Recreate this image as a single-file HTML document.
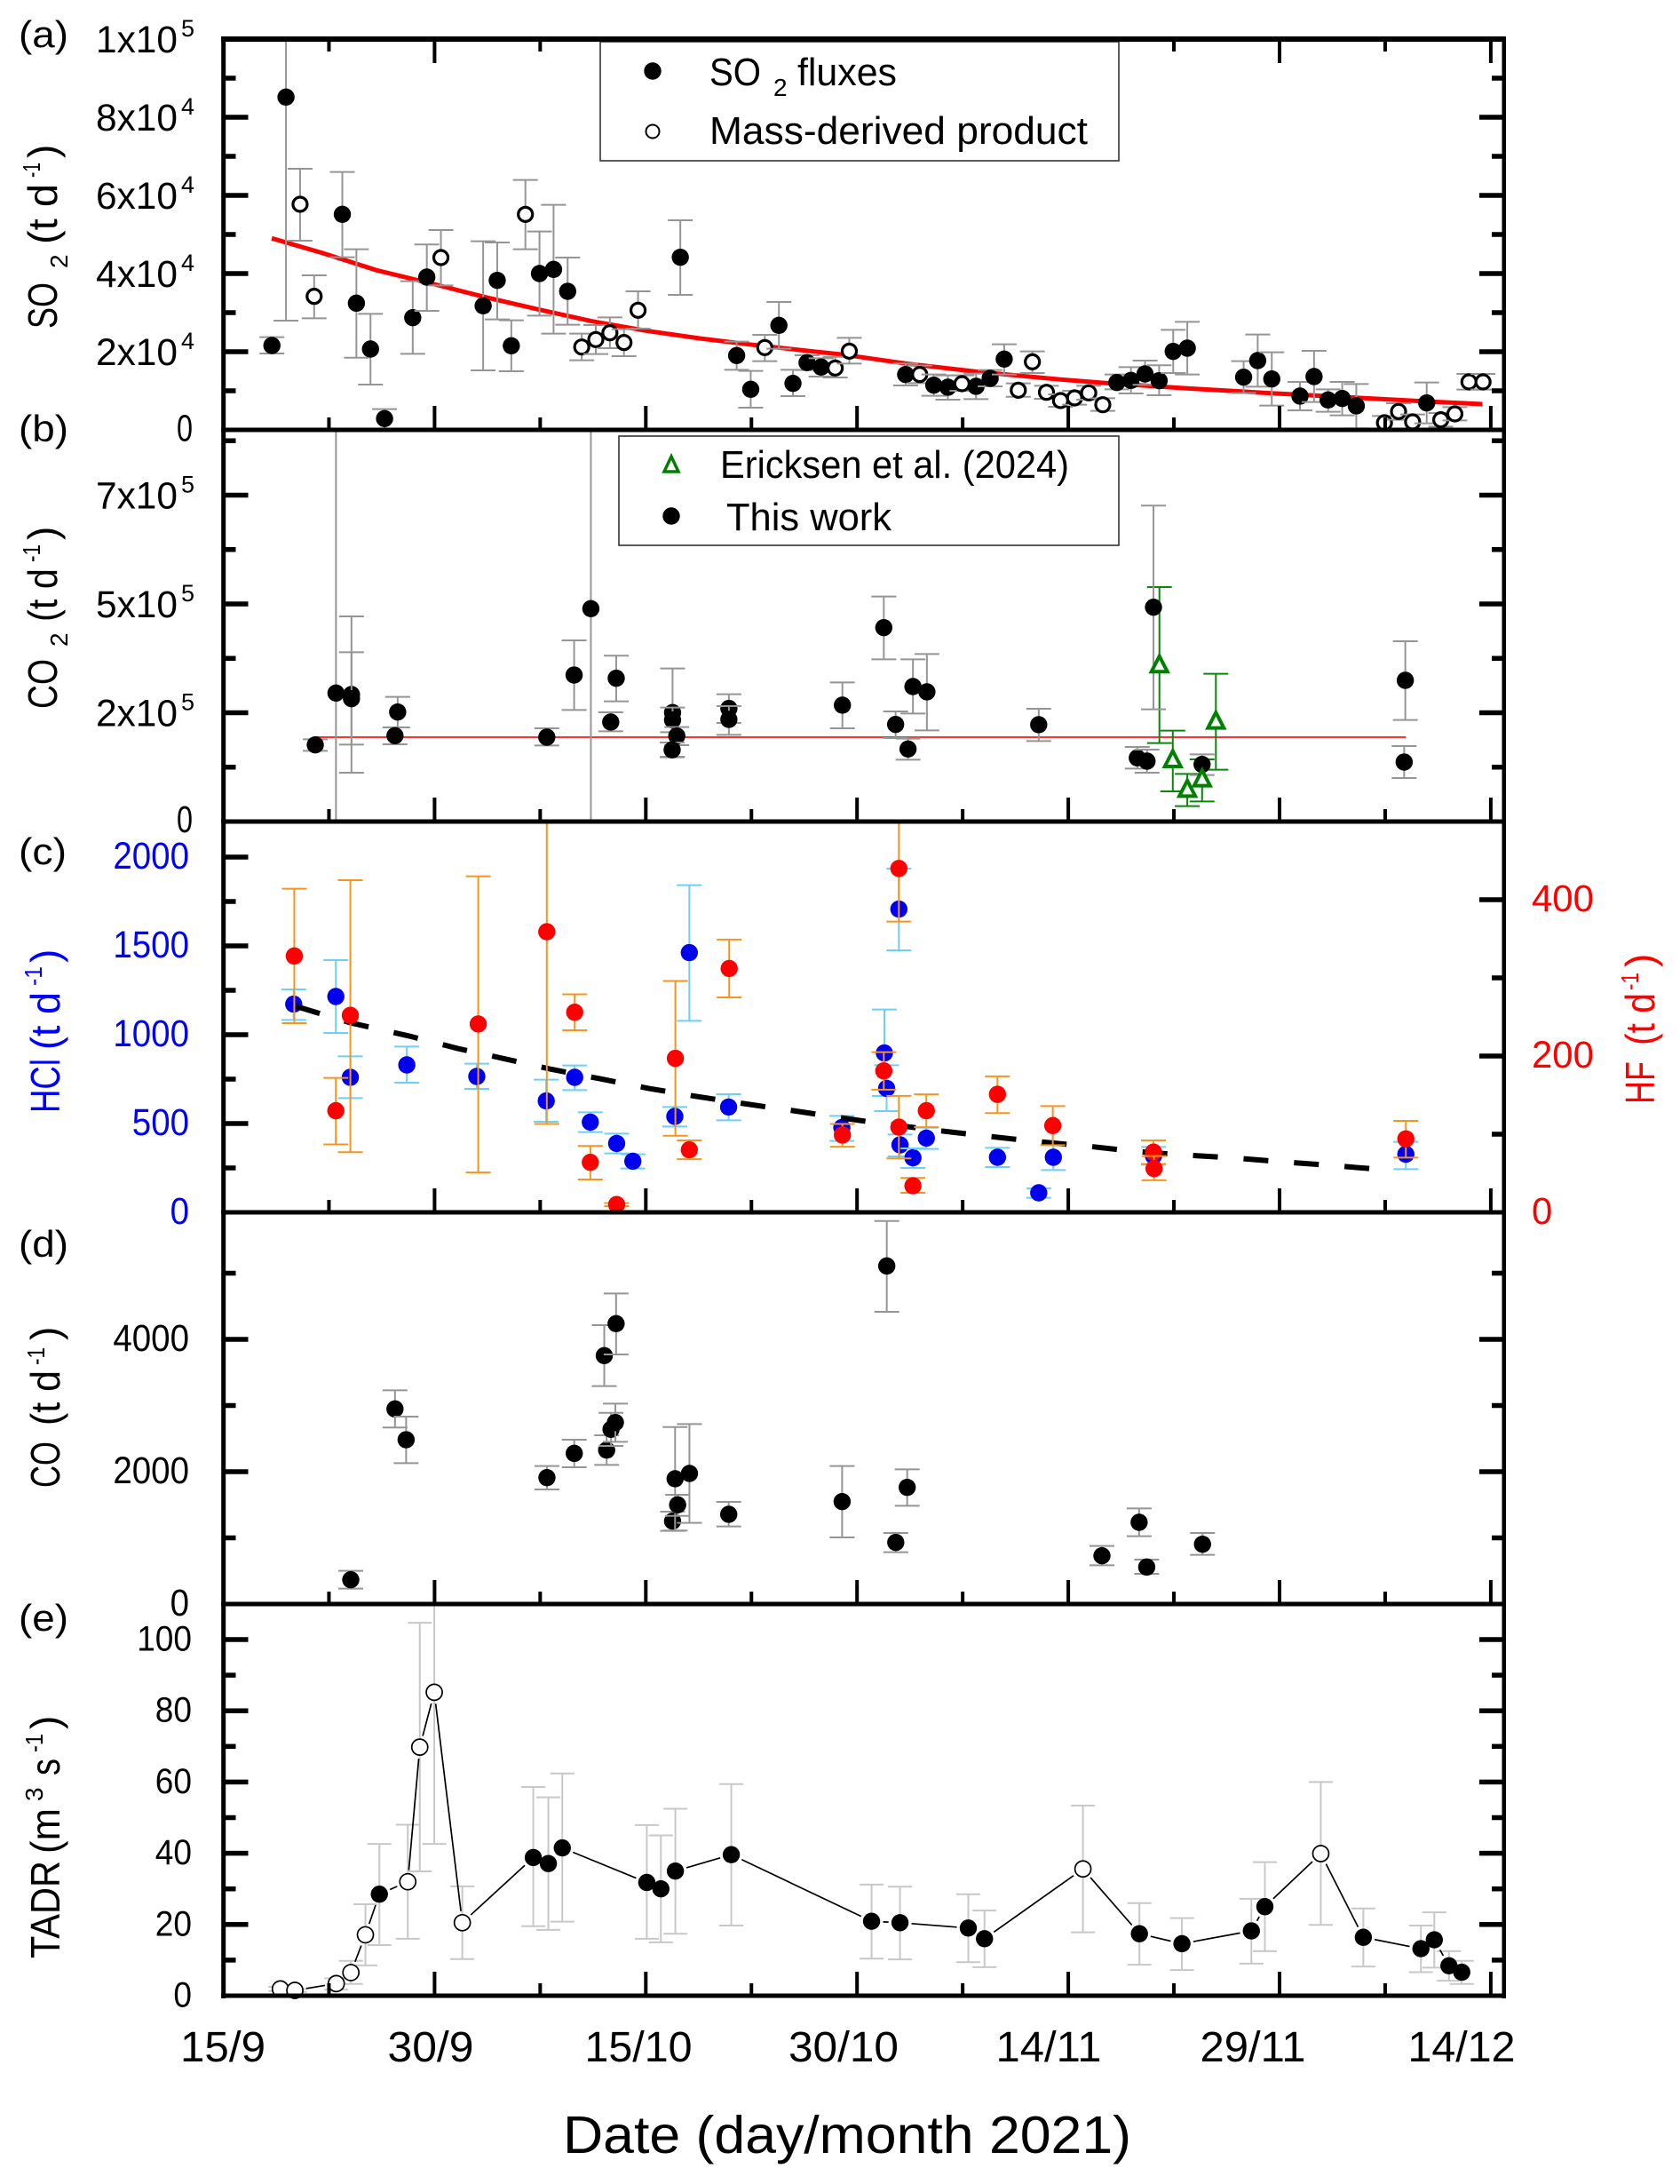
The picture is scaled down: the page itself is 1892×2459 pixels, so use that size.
<!DOCTYPE html>
<html lang="en">
<head>
<meta charset="utf-8">
<title>Volcanic gas fluxes and TADR, 2021</title>
<style>
html,body{margin:0;padding:0;background:#fff;}
svg{display:block;font-family:"Liberation Sans",sans-serif;}
</style>
</head>
<body>
<svg id="chart" xmlns="http://www.w3.org/2000/svg" width="1892" height="2459" viewBox="0 0 1892 2459">
<defs>
<clipPath id="clipA"><rect x="251" y="44" width="1443" height="440"/></clipPath>
<clipPath id="clipB"><rect x="251" y="484" width="1443" height="441"/></clipPath>
<clipPath id="clipC"><rect x="251" y="925" width="1443" height="440"/></clipPath>
<clipPath id="clipD"><rect x="251" y="1365" width="1443" height="441"/></clipPath>
<clipPath id="clipE"><rect x="251" y="1806" width="1443" height="441"/></clipPath>
</defs>
<rect x="0" y="0" width="1892" height="2459" fill="#fff"/>
<g id="marks"></g>

<g>
<rect x="676" y="47" width="584" height="134" fill="#fff" stroke="#333" stroke-width="1.6"/>
<circle cx="735" cy="80" r="9.7" fill="#000"/>
<text x="799" y="96" font-size="44" textLength="58" lengthAdjust="spacingAndGlyphs">SO</text>
<text x="871" y="108" font-size="28">2</text>
<text x="898" y="96" font-size="44" textLength="112" lengthAdjust="spacingAndGlyphs">fluxes</text>
<circle cx="735" cy="148" r="7.5" fill="#fff" stroke="#000" stroke-width="2"/>
<text x="799" y="162" font-size="44" textLength="426" lengthAdjust="spacingAndGlyphs">Mass-derived product</text>
</g>
<g>
<rect x="697" y="491" width="563" height="123" fill="#fff" stroke="#333" stroke-width="1.6"/>
<path d="M756 514 L764 531 L748 531 Z" fill="#fff" stroke="#008000" stroke-width="3.5"/>
<text x="811" y="538" font-size="44" textLength="393" lengthAdjust="spacingAndGlyphs">Ericksen et al. (2024)</text>
<circle cx="756" cy="581" r="9.7" fill="#000"/>
<text x="818" y="597" font-size="44" textLength="186" lengthAdjust="spacingAndGlyphs">This work</text>
</g>

<g id="axes"></g>

<g font-size="42">
<text x="21" y="53" textLength="56" lengthAdjust="spacingAndGlyphs">(a)</text>
<text x="21" y="497" textLength="56" lengthAdjust="spacingAndGlyphs">(b)</text>
<text x="21" y="973" textLength="54" lengthAdjust="spacingAndGlyphs">(c)</text>
<text x="21" y="1415" textLength="56" lengthAdjust="spacingAndGlyphs">(d)</text>
<text x="21" y="1836" textLength="56" lengthAdjust="spacingAndGlyphs">(e)</text>
</g>

<g font-size="46">
<text transform="translate(64,370) rotate(-90)" textLength="52" lengthAdjust="spacingAndGlyphs">SO</text>
<text transform="translate(76,302) rotate(-90)" font-size="28">2</text>
<text transform="translate(64,275) rotate(-90)" textLength="68" lengthAdjust="spacingAndGlyphs">(t d</text>
<text transform="translate(45,200) rotate(-90)" font-size="28" textLength="17" lengthAdjust="spacingAndGlyphs">-1</text>
<text transform="translate(64,178) rotate(-90)">)</text>
</g>
<g font-size="46">
<text transform="translate(64,798) rotate(-90)" textLength="56" lengthAdjust="spacingAndGlyphs">CO</text>
<text transform="translate(76,728) rotate(-90)" font-size="28">2</text>
<text transform="translate(64,700) rotate(-90)" textLength="60" lengthAdjust="spacingAndGlyphs">(t d</text>
<text transform="translate(45,633) rotate(-90)" font-size="28" textLength="20" lengthAdjust="spacingAndGlyphs">-1</text>
<text transform="translate(64,608) rotate(-90)">)</text>
</g>
<g font-size="46" fill="#0000ff">
<text transform="translate(67,1253) rotate(-90)" textLength="61" lengthAdjust="spacingAndGlyphs">HCl</text>
<text transform="translate(67,1182) rotate(-90)" textLength="65" lengthAdjust="spacingAndGlyphs">(t d</text>
<text transform="translate(47,1110) rotate(-90)" font-size="28" textLength="22" lengthAdjust="spacingAndGlyphs">-1</text>
<text transform="translate(67,1084) rotate(-90)">)</text>
</g>
<g font-size="46" fill="#ff0000">
<text transform="translate(1863,1243) rotate(-90)" textLength="48" lengthAdjust="spacingAndGlyphs">HF</text>
<text transform="translate(1863,1177) rotate(-90)" textLength="59" lengthAdjust="spacingAndGlyphs">(t d</text>
<text transform="translate(1845,1115) rotate(-90)" font-size="28" textLength="20" lengthAdjust="spacingAndGlyphs">-1</text>
<text transform="translate(1863,1089) rotate(-90)">)</text>
</g>
<g font-size="46">
<text transform="translate(67,1675) rotate(-90)" textLength="52" lengthAdjust="spacingAndGlyphs">CO</text>
<text transform="translate(67,1605) rotate(-90)" textLength="62" lengthAdjust="spacingAndGlyphs">(t d</text>
<text transform="translate(50,1537) rotate(-90)" font-size="28" textLength="20" lengthAdjust="spacingAndGlyphs">-1</text>
<text transform="translate(67,1509) rotate(-90)">)</text>
</g>
<g font-size="46">
<text transform="translate(67,2205) rotate(-90)" textLength="110" lengthAdjust="spacingAndGlyphs">TADR</text>
<text transform="translate(67,2087) rotate(-90)" textLength="51" lengthAdjust="spacingAndGlyphs">(m</text>
<text transform="translate(48,2028) rotate(-90)" font-size="28">3</text>
<text transform="translate(67,1999) rotate(-90)" textLength="19" lengthAdjust="spacingAndGlyphs">s</text>
<text transform="translate(48,1973) rotate(-90)" font-size="28" textLength="21" lengthAdjust="spacingAndGlyphs">-1</text>
<text transform="translate(67,1947) rotate(-90)">)</text>
</g>

<g font-size="48" text-anchor="middle">
<text x="251" y="2321" textLength="96" lengthAdjust="spacingAndGlyphs">15/9</text>
<text x="485" y="2321" textLength="97" lengthAdjust="spacingAndGlyphs">30/9</text>
<text x="719" y="2321" textLength="121" lengthAdjust="spacingAndGlyphs">15/10</text>
<text x="950" y="2321" textLength="124" lengthAdjust="spacingAndGlyphs">30/10</text>
<text x="1181" y="2321" textLength="119" lengthAdjust="spacingAndGlyphs">14/11</text>
<text x="1411" y="2321" textLength="119" lengthAdjust="spacingAndGlyphs">29/11</text>
<text x="1646" y="2321" textLength="121" lengthAdjust="spacingAndGlyphs">14/12</text>
</g>
<text x="634" y="2424" font-size="59" textLength="640" lengthAdjust="spacingAndGlyphs">Date (day/month 2021)</text>
</svg>

<script>
// ---- panel (a) SO2 ----
const so2Days = [3.45,4.45,5.45,6.45,8.45,9.45,10.45,11.45,13.45,14.45,15.45,18.45,19.45,20.45,21.45,22.45,23.45,24.45,25.45,26.45,27.45,28.45,29.45,32.45,36.45,37.45,38.45,39.45,40.45,41.45,42.45,43.45,44.45,48.45,49.45,50.45,51.45,52.45,53.45,54.45,55.45,56.45,57.45,58.45,59.45,60.45,61.45,62.45,63.45,64.45,65.45,66.45,67.45,68.45,72.45,73.45,74.45,76.45,77.45,78.45,79.45,80.45,82.45,83.45,84.45,85.45,86.45,87.45,88.45,89.45];
const so2Values = [21590,85150,57730,34170,55150,32420,20680,2880,28710,39090,44090,31740,38260,21520,55150,40000,41060,35450,21210,23110,24850,22350,30610,44170,19020,10380,21060,26740,11890,17200,16060,15830,20150,14170,14170,11440,10910,11820,11140,13180,18110,10150,17420,9620,7500,8180,9470,6440,12120,12650,14320,12580,20080,20910,13480,17730,13030,8640,13640,7650,8030,6140,1820,4700,2050,6890,2580,4090,12270,12270];
const so2High = [23710,142000,66820,39550,65990,46210,29700,5300,38030,47430,51140,48260,47950,28030,63940,50760,57580,44090,24620,26820,28790,25760,35450,53640,22580,15080,24320,32730,15380,19090,18330,18700,23560,16970,16440,14170,13940,13940,14390,15300,21890,11890,20080,11290,9090,10000,11290,8110,14170,16060,17730,16520,25610,27650,17580,24390,19850,12270,20230,10380,12270,11740,3560,6820,3940,12120,4320,5830,14320,14320];
const so2Low = [19550,27950,48410,28560,44170,18480,11590,230,19470,30450,36970,15230,28260,15000,46210,29240,24620,26890,17800,19390,20910,18860,25910,34550,15380,5680,17580,20760,8640,15300,13640,13410,16970,11360,11970,8710,7730,10000,7880,11140,14170,8480,14550,7950,5910,6440,7730,4850,10380,9320,11520,8860,14550,14170,9390,11060,6210,5000,7120,4620,3710,380,230,2580,230,1670,830,2420,10300,10300];
const so2Hollow = [0,0,1,1,0,0,0,0,0,0,1,0,0,0,1,0,0,0,1,1,1,1,1,0,0,0,1,0,0,0,0,1,1,0,1,0,0,1,0,0,0,1,1,1,1,1,1,1,0,0,0,0,0,0,0,0,0,0,0,0,0,0,1,1,1,0,1,1,1,1];
const so2TrendDays = [3.44,7.07,10.89,14.98,18.53,22.35,26.17,30,33.82,37.64,41.46,44.06,48.47,53.44,59.44,62.42,68.42,74.42,80.41,85.46,89.4];
const so2TrendValues = [49020,45230,40830,37270,34020,30830,27800,25380,23410,21740,20230,19240,16970,14920,12880,12050,10610,9390,8260,7270,6590];
const so2MajorTicks = [20000,40000,60000,80000];
const so2MinorTicks = [10000,30000,50000,70000,90000];
const so2SciLabels = [["2","4",20000],["4","4",40000],["6","4",60000],["8","4",80000],["1","5",100000]];

// ---- panel (b) CO2 ----
const co2Days = [6.53,8.0,9.1,9.1,12.38,12.19,22.97,24.91,26.1,27.9,27.51,31.9,31.9,32.2,31.87,35.9,35.9,43.96,46.9,47.74,48.97,48.62,49.96,57.9,64.9,65.59,66.05,69.5,83.93,83.85];
const co2Values = [176200,295250,291850,282300,251700,197300,193900,336700,489100,329300,228600,250350,233300,196600,164600,259900,234700,267400,445600,223100,310200,166700,298000,222500,146300,138800,492500,131300,324500,136700];
const co2High = [189100,1200000,471450,389100,286400,216300,214300,416300,1200000,381000,251000,351700,261900,217000,181600,292500,265300,319700,517000,253100,372800,190500,385000,259200,171400,165300,725900,154400,414300,173500];
const co2Low = [162600,-50000,112250,176900,216300,177600,174800,256500,-50000,276200,207500,149000,205400,175500,147600,226500,199300,214300,372800,191800,248300,142200,209500,185000,121800,112200,257800,106800,233300,100000];
const ericksenDays = [66.47,67.42,68.45,69.5,70.48];
const ericksenValues = [360600,142900,74800,98600,231300];
const ericksenHigh = [538800,208900,109500,142900,339500];
const ericksenLow = [180300,69400,35400,46300,119100];
const co2MeanDays = [6.53,83.97];
const co2MeanValues = [193900,193900];
const co2MajorTicks = [250000,500000,750000];
const co2MinorTicks = [125000,375000,625000,875000];
const co2SciLabels = [["2","5",250000],["5","5",500000],["7","5",750000]];

// ---- panel (c) HCl + HF ----
const hclDays = [5.0,7.99,9.02,13.03,18,22.93,24.95,26.06,27.93,29.08,32.06,33.09,35.88,43.92,46.94,47.1,47.97,48.05,48.97,49.92,54.97,57.9,58.94,66.05,83.97];
const hclValues = [1172,1215,760,830,765,627,760,508,388,288,540,1462,593,477,897,698,1707,380,307,418,310,110,310,318,327];
const hclHigh = [1255,1420,878,933,837,747,827,563,443,327,593,1842,665,543,1142,828,1935,438,360,477,363,135,383,368,397];
const hclLow = [1083,1010,643,730,695,510,688,452,332,247,483,1078,518,402,655,570,1475,315,250,357,255,82,238,268,243];
const hfDays = [5.04,7.99,9.02,18.1,22.97,24.95,26.06,27.93,32.1,33.09,35.92,43.96,46.9,47.97,47.97,48.97,49.92,54.97,58.9,66.05,66.09,83.97];
const hfValues = [328,130,252,241,359,256,64,10,197,80,312,99,181,440,109,34,130,151,111,77,56,94];
const hfHigh = [414,172,425,430,650,279,85,12,296,92,349,113,205,560,149,44,151,174,136,92,72,117];
const hfLow = [242,87,77,51,113,233,42,8,98,68,275,84,157,372,69,25,109,127,86,62,41,70];
const hclTrendDays = [5.16,8.98,13.18,16.62,20.06,23.31,26.75,30.19,33.63,36.87,40.5,44.06,45.83,50.8,54.43,57.87,61.31,64.75,68.19,71.63,75.06,78.5,81.94];
const hclTrendValues = [1160,1068,993,923,863,805,752,698,652,613,572,530,510,460,427,398,373,343,323,307,285,265,243];
const hclMajorTicks = [500,1000,1500,2000];
const hclMinorTicks = [250,750,1250,1750];
const hclTickLabels = ["0","500","1000","1500","2000"];
const hclLabelValues = [0,500,1000,1500,2000];
const hfMajorTicks = [200,400];
const hfMinorTicks = [100,300];
const hfTickLabels = ["0","200","400"];
const hfLabelValues = [0,200,400];

// ---- panel (d) CO ----
const coDays = [9.05,12.19,12.98,22.98,24.92,27.05,27.89,27.22,27.53,27.84,31.9,32.08,32.26,33.1,35.89,43.94,47.11,47.75,48.56,62.39,65.03,65.57,69.53];
const coValues = [367,2948,2483,1910,2277,3754,4237,2326,2640,2743,1253,1893,1499,1973,1356,1548,5109,931,1763,729,1235,559,904];
const coHigh = [501,3230,2832,2085,2483,4215,4693,2550,2890,3029,1396,2675,1651,2720,1544,2085,5789,1074,2036,877,1445,671,1074];
const coLow = [233,2667,2130,1731,2067,3293,3772,2103,2389,2452,1105,1110,1333,1226,1172,1007,4416,783,1485,586,1025,456,743];
const coMajorTicks = [2000,4000];
const coMinorTicks = [1000,3000,5000];
const coTickLabels = ["0","2000","4000"];
const coLabelValues = [0,2000,4000];

// ---- panel (e) TADR ----
const tadrDays = [4.05,5.08,8.02,9.06,10.09,11.08,13.1,13.95,14.98,16.97,22.01,23.08,24.07,30.07,31.07,32.1,36.07,46.03,48.05,52.9,54.05,61.04,65.05,68.07,73,73.96,77.93,80.95,85.04,85.99,87.03,87.94];
const tadrValues = [1.9,1.5,3.4,6.5,17.1,28.5,32,69.8,85.2,20.5,38.8,37.1,41.5,31.8,30,35,39.6,20.9,20.5,19,16,35.6,17.4,14.6,18.2,25,39.9,16.4,13.2,15.7,8.4,6.6];
const tadrHigh = [2.5,1.9,4.9,9.8,25.7,42.6,48,104.7,128,30.7,58.6,55.7,62.4,47.9,45,52.5,59.4,31.2,30.6,28.5,23.9,53.4,26,21.8,27.2,37.5,60,24.5,19.7,23.4,12.5,9.8];
const tadrLow = [1.3,1.05,1.7,3.3,8.5,14.2,16,34.9,42.6,10.3,19.5,18.5,20.8,16,15,17.4,19.7,10.4,10.2,9.4,8,17.8,8.7,7.2,9,12.5,19.9,8.2,6.6,7.9,4.2,3.3];
const tadrHollow = [1,1,1,1,1,0,1,1,1,1,0,0,0,0,0,0,0,0,0,0,0,1,0,0,0,0,1,0,0,0,0,0];
const tadrMajorTicks = [20,40,60,80,100];
const tadrMinorTicks = [10,30,50,70,90];
const tadrTickLabels = ["0","20","40","60","80","100"];
const tadrLabelValues = [0,20,40,60,80,100];

// ---- shared x axis ----
const xMajorTickDays = [15,30,45,60,75,90];
const xMinorTickDays = [7.5,22.5,37.5,52.5,67.5,82.5];

const NS = 'http://www.w3.org/2000/svg';
const marks = document.getElementById('marks');
const axes = document.getElementById('axes');

function linear(d0, d1, r0, r1) {
  return function (v) { return r0 + (v - d0) * (r1 - r0) / (d1 - d0); };
}
const x = linear(0, 90.9, 251.5, 251.5 + 15.86 * 90.9);
const yA = linear(0, 100000, 484, 44);
const yB = linear(0, 900000, 925, 484);
const yHcl = linear(0, 2000, 1365, 965);
const yHf = linear(0, 400, 1365, 1013);
const yD = linear(0, 4000, 1806, 1508);
const yE = linear(0, 100, 2247, 1846);

function el(parent, tag, attrs) {
  const e = document.createElementNS(NS, tag);
  for (const k in attrs) e.setAttribute(k, attrs[k]);
  parent.appendChild(e);
  return e;
}

function errorBar(parent, cx, yHi, yLo, color, w, capW, clip) {
  const g = el(parent, 'g', { stroke: color, 'stroke-width': w, fill: 'none', 'clip-path': 'url(#' + clip + ')' });
  
  
  el(g, 'line', { x1: cx, x2: cx, y1: yHi, y2: yLo });
  el(g, 'line', { x1: cx - capW / 2, x2: cx + capW / 2, y1: yHi, y2: yHi });
  el(g, 'line', { x1: cx - capW / 2, x2: cx + capW / 2, y1: yLo, y2: yLo });
}

function dot(parent, cx, cy, fill, stroke, sw, r, name) {
  const c = el(parent, 'circle', { cx: cx, cy: cy, r: r, fill: fill, stroke: stroke, 'stroke-width': sw });
  
  
}

function series(parent, days, vals, hi, lo, y, hollow, color, errColor, errW, capW, clip, name, hollowSw) {
  for (let i = 0; i < days.length; i++) {
    const cx = x(days[i]);
    errorBar(parent, cx, y(hi[i]), y(lo[i]), errColor, errW, capW, clip);
    if (hollow && hollow[i]) dot(parent, cx, y(vals[i]), '#fff', '#000', hollowSw, 8, name + '-hollow-point');
    else dot(parent, cx, y(vals[i]), color, 'none', 0, 9.7, name + '-point');
  }
}

function curve(parent, days, vals, y, color, w, dash, name) {
  const pts = days.map(function (d, i) { return x(d).toFixed(1) + ',' + y(vals[i]).toFixed(1); }).join(' ');
  const attrs = { points: pts, fill: 'none', stroke: color, 'stroke-width': w };
  if (dash) attrs['stroke-dasharray'] = dash;
  const p = el(parent, 'polyline', attrs);
  
  
}

// Panel a
const gA = el(marks, 'g', {});


curve(gA, so2TrendDays, so2TrendValues, yA, '#ff0000', 5, null, 'so2-trend-curve');
series(gA, so2Days, so2Values, so2High, so2Low, yA, so2Hollow, '#000', '#959595', 2, 28, 'clipA', 'so2', 3.2);

// Panel b
const gB = el(marks, 'g', {});


curve(gB, co2MeanDays, co2MeanValues, yB, '#ff3333', 2, null, 'co2-mean-line');
for (let i = 0; i < ericksenDays.length; i++) {
  errorBar(gB, x(ericksenDays[i]), yB(ericksenHigh[i]), yB(ericksenLow[i]), '#0a860a', 2, 28, 'clipB');
}
series(gB, co2Days, co2Values, co2High, co2Low, yB, null, '#000', '#959595', 2, 28, 'clipB', 'co2', 3.2);
for (let i = 0; i < ericksenDays.length; i++) {
  const tx = x(ericksenDays[i]);
  const ty = yB(ericksenValues[i]);
  const tri = el(gB, 'path', { d: 'M' + tx + ' ' + (ty - 9.5) + ' L' + (tx + 9) + ' ' + (ty + 8) + ' L' + (tx - 9) + ' ' + (ty + 8) + ' Z', fill: '#fff', stroke: '#008000', 'stroke-width': 4 });
  
  
}

// Panel c
const gC = el(marks, 'g', {});


series(gC, hclDays, hclValues, hclHigh, hclLow, yHcl, null, '#0000ee', '#6dcff6', 2, 28, 'clipC', 'hcl', 3);
curve(gC, hclTrendDays, hclTrendValues, yHcl, '#000', 6, '28 29', 'hcl-trend-dashed');
series(gC, hfDays, hfValues, hfHigh, hfLow, yHf, null, '#ff0000', '#f7941d', 2, 28, 'clipC', 'hf', 3);

// Panel d
const gD = el(marks, 'g', {});


series(gD, coDays, coValues, coHigh, coLow, yD, null, '#000', '#959595', 2, 28, 'clipD', 'co', 3);

// Panel e
const gE = el(marks, 'g', {});


for (let i = 0; i < tadrDays.length; i++) {
  errorBar(gE, x(tadrDays[i]), yE(tadrHigh[i]), yE(tadrLow[i]), '#c8c8c8', 2, 27, 'clipE');
}
for (let i = 0; i + 1 < tadrDays.length; i++) {
  const x1 = x(tadrDays[i]);
  const y1 = yE(tadrValues[i]);
  const x2 = x(tadrDays[i + 1]);
  const y2 = yE(tadrValues[i + 1]);
  const len = Math.hypot(x2 - x1, y2 - y1);
  const gap = 13;
  if (len <= gap * 2) continue;
  const ux = (x2 - x1) / len;
  const uy = (y2 - y1) / len;
  const seg = el(gE, 'line', { x1: x1 + ux * gap, y1: y1 + uy * gap, x2: x2 - ux * gap, y2: y2 - uy * gap, stroke: '#000', 'stroke-width': 1.7 });
  
  
}
for (let i = 0; i < tadrDays.length; i++) {
  if (tadrHollow[i]) dot(gE, x(tadrDays[i]), yE(tadrValues[i]), '#fff', '#000', 1.7, 9, 'tadr-hollow-point');
  else dot(gE, x(tadrDays[i]), yE(tadrValues[i]), '#000', 'none', 0, 9.7, 'tadr-point');
}

// Axes: ticks
function rect(parent, rx, ry, w, h, name) {
  const r = el(parent, 'rect', { x: rx, y: ry, width: w, height: h, fill: '#000' });
  
  
}
function yTicks(values, y, len, sides, name) {
  values.forEach(function (v) {
    const py = y(v);
    if (sides.indexOf('L') >= 0) rect(axes, 251.5, py - 2.75, len, 5.5, name);
    if (sides.indexOf('R') >= 0) rect(axes, 1694 - len, py - 2.75, len, 5.5, name);
  });
}
yTicks(so2MajorTicks, yA, 28, 'LR', 'so2-major-tick');
yTicks(so2MinorTicks, yA, 14, 'LR', 'so2-minor-tick');
yTicks(co2MajorTicks, yB, 28, 'LR', 'co2-major-tick');
yTicks(co2MinorTicks, yB, 14, 'LR', 'co2-minor-tick');
yTicks(hclMajorTicks, yHcl, 28, 'L', 'hcl-major-tick');
yTicks(hclMinorTicks, yHcl, 14, 'L', 'hcl-minor-tick');
yTicks(hfMajorTicks, yHf, 28, 'R', 'hf-major-tick');
yTicks(hfMinorTicks, yHf, 14, 'R', 'hf-minor-tick');
yTicks(coMajorTicks, yD, 28, 'LR', 'co-major-tick');
yTicks(coMinorTicks, yD, 14, 'LR', 'co-minor-tick');
yTicks(tadrMajorTicks, yE, 28, 'LR', 'tadr-major-tick');
yTicks(tadrMinorTicks, yE, 14, 'LR', 'tadr-minor-tick');

const panelBottoms = [484, 925, 1365, 1806, 2247];
panelBottoms.forEach(function (b) {
  xMajorTickDays.forEach(function (d) { rect(axes, x(d) - 2, b - 27, 4, 27, 'x-major-tick'); });
  xMinorTickDays.forEach(function (d) { rect(axes, x(d) - 2, b - 14, 4, 14, 'x-minor-tick'); });
});

// Top ticks of panel a, hidden where the legend sits
xMajorTickDays.forEach(function (d) {
  if (x(d) < 676 || x(d) > 1260) rect(axes, x(d) - 2, 44, 4, 27, 'x-top-major-tick');
});
xMinorTickDays.forEach(function (d) {
  if (x(d) < 676 || x(d) > 1260) rect(axes, x(d) - 2, 44, 4, 14, 'x-top-minor-tick');
});

// Spines
rect(axes, 249.2, 41, 5, 2209, 'left-spine');
rect(axes, 1691.5, 41, 4.5, 2209, 'right-spine');
rect(axes, 249.2, 41, 1446.8, 6, 'top-spine');
panelBottoms.forEach(function (b) { rect(axes, 249.2, b - 2.5, 1446.8, 5, 'panel-divider'); });

// Y tick labels
const labels = el(axes, 'g', {});


function label(tx, ty, str, size, anchor, fill, len) {
  const attrs = { x: tx, y: ty, 'font-size': size, 'text-anchor': anchor, fill: fill };
  if (len) { attrs.textLength = len; attrs.lengthAdjust = 'spacingAndGlyphs'; }
  const t = el(labels, 'text', attrs);
  t.textContent = str;
  
  
}
function sciLabels(list, y) {
  list.forEach(function (l) {
    const py = y(l[2]);
    label(200, py + 15, l[0] + 'x10', 43, 'end', '#000', 92);
    label(204, py - 3, l[1], 27, 'start', '#000');
  });
}
sciLabels(so2SciLabels, yA);
sciLabels(co2SciLabels, yB);
label(217, 496.5, '0', 43, 'end', '#000', 18);
label(217, 937, '0', 43, 'end', '#000', 18);

hclTickLabels.forEach(function (s, i) {
  label(213, yHcl(hclLabelValues[i]) + 13, s, 43, 'end', '#0000ff', s.length * 21.4);
});
hfTickLabels.forEach(function (s, i) {
  label(1725, yHf(hfLabelValues[i]) + 13, s, 43, 'start', '#ff0000', s.length * 23.3);
});
coTickLabels.forEach(function (s, i) {
  label(213, yD(coLabelValues[i]) + 13, s, 43, 'end', '#000', s.length * 21.4);
});
tadrTickLabels.forEach(function (s, i) {
  label(216, yE(tadrLabelValues[i]) + 12.5, s, 40, 'end', '#000', s.length * 20.6);
});
</script>
</body>
</html>
